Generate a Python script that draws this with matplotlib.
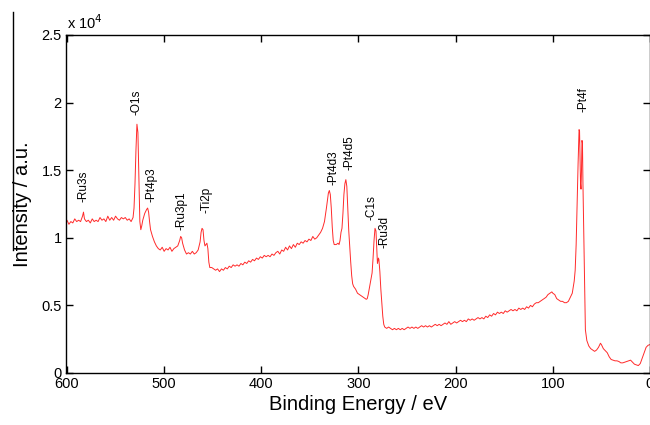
import matplotlib
matplotlib.use("Agg")
import matplotlib.pyplot as plt
from matplotlib.lines import Line2D

plt.rcParams['font.family'] = ['Liberation Sans', 'DejaVu Sans']

# ---- data (binding energy in eV, intensity in units of 1e4 counts) ----
binding_energy = [
    602, 600, 598, 596, 594, 592, 590, 588, 586, 584, 583, 582, 580, 578, 576, 574, 572, 570,
    568, 566, 564, 562, 560, 558, 556, 554, 552, 550, 548, 546, 544, 542, 540, 538, 536, 534,
    532, 531, 530, 529, 528, 527, 526, 525, 524, 523, 522, 520, 518, 517, 516, 515, 514, 512,
    510, 508, 506, 504, 502, 500, 498, 496, 494, 492, 490, 488, 486, 484, 483, 482, 481, 479,
    477, 475, 473, 471, 469, 467, 465, 463, 462, 461, 460, 459, 458, 457, 456, 455, 454, 453,
    451, 449, 447, 445, 443, 441, 439, 437, 435, 433, 431, 429, 427, 425, 423, 421, 419, 417,
    415, 413, 411, 409, 407, 405, 403, 401, 399, 397, 395, 393, 391, 389, 387, 385, 383, 381,
    379, 377, 375, 373, 371, 369, 367, 365, 363, 361, 359, 357, 355, 353, 351, 349, 347, 345,
    343, 341, 339, 337, 335, 333, 331, 330, 329, 328, 327, 326, 325, 323, 321, 320, 319, 318,
    317, 316, 315, 314, 313, 312, 311, 310, 309, 308, 307, 306, 305, 303, 301, 299, 297, 295,
    293, 292, 291, 290, 289, 288, 287, 286, 285, 284, 283, 282, 281, 280.5, 279.5, 279, 278, 277,
    276, 275, 274, 273, 271, 269, 267, 265, 263, 261, 259, 257, 255, 253, 251, 249, 247, 245,
    243, 241, 239, 237, 235, 233, 231, 229, 227, 225, 223, 221, 219, 217, 215, 213, 211, 209,
    207, 205, 203, 201, 199, 197, 195, 193, 191, 189, 187, 185, 183, 181, 179, 177, 175, 173,
    171, 169, 167, 165, 163, 161, 159, 157, 155, 153, 151, 149, 147, 145, 143, 141, 139, 137,
    135, 133, 131, 129, 127, 125, 123, 121, 119, 117, 115, 113, 111, 109, 107, 105, 103, 101,
    100, 98, 96, 94, 92, 90, 88, 86, 84, 82, 80, 78, 77, 76, 75, 74, 73, 72.5, 71.5, 71,
    70.5, 70, 69.5, 69, 68, 67, 66.5, 65, 63, 61, 59, 57, 55, 53, 51, 50, 48, 46, 44, 42,
    40, 38, 36, 34, 32, 30, 28, 26, 24, 22, 20, 18, 16, 14, 12, 10, 8, 6, 4, 2, 0,
]
intensity = [
    1.11, 1.13, 1.10, 1.12, 1.11, 1.14, 1.12, 1.13, 1.12, 1.16, 1.19, 1.14, 1.12, 1.13, 1.11, 1.14, 1.12, 1.13,
    1.12, 1.15, 1.13, 1.14, 1.12, 1.16, 1.13, 1.15, 1.13, 1.16, 1.14, 1.13, 1.15, 1.14, 1.15, 1.13, 1.14, 1.12,
    1.15, 1.22, 1.40, 1.65, 1.84, 1.78, 1.45, 1.12, 1.06, 1.09, 1.13, 1.18, 1.21, 1.22, 1.19, 1.12, 1.06, 1.01,
    0.97, 0.94, 0.92, 0.91, 0.93, 0.90, 0.92, 0.91, 0.93, 0.90, 0.92, 0.93, 0.94, 0.98, 1.01, 1.00, 0.96, 0.91,
    0.88, 0.89, 0.88, 0.90, 0.88, 0.89, 0.91, 0.97, 1.04, 1.07, 1.06, 0.98, 0.94, 0.95, 0.96, 0.92, 0.82, 0.78,
    0.78, 0.77, 0.76, 0.77, 0.75, 0.77, 0.76, 0.78, 0.77, 0.79, 0.78, 0.80, 0.79, 0.80, 0.79, 0.81, 0.80, 0.82,
    0.81, 0.83, 0.82, 0.84, 0.83, 0.85, 0.84, 0.86, 0.85, 0.87, 0.86, 0.87, 0.86, 0.88, 0.87, 0.89, 0.90, 0.88,
    0.91, 0.90, 0.93, 0.91, 0.94, 0.92, 0.95, 0.93, 0.96, 0.95, 0.97, 0.96, 0.98, 0.97, 0.99, 0.98, 1.01, 0.99,
    1.00, 1.02, 1.04, 1.07, 1.12, 1.22, 1.33, 1.35, 1.32, 1.22, 1.08, 0.98, 0.95, 0.95, 0.96, 0.95, 0.98, 1.04,
    1.07, 1.18, 1.32, 1.40, 1.43, 1.38, 1.22, 1.05, 0.93, 0.82, 0.72, 0.66, 0.64, 0.62, 0.59, 0.58, 0.57, 0.56,
    0.55, 0.545, 0.55, 0.58, 0.62, 0.66, 0.70, 0.74, 0.85, 0.98, 1.07, 1.05, 0.90, 0.81, 0.85, 0.84, 0.75, 0.62,
    0.52, 0.42, 0.36, 0.34, 0.33, 0.34, 0.33, 0.32, 0.33, 0.32, 0.33, 0.32, 0.33, 0.32, 0.33, 0.34, 0.33, 0.34,
    0.33, 0.34, 0.33, 0.34, 0.35, 0.34, 0.35, 0.34, 0.35, 0.34, 0.35, 0.36, 0.35, 0.36, 0.35, 0.36, 0.37, 0.36,
    0.38, 0.36, 0.37, 0.38, 0.37, 0.38, 0.39, 0.38, 0.39, 0.38, 0.40, 0.39, 0.40, 0.39, 0.40, 0.41, 0.40, 0.41,
    0.40, 0.42, 0.41, 0.43, 0.42, 0.44, 0.43, 0.45, 0.44, 0.45, 0.44, 0.46, 0.45, 0.46, 0.47, 0.46, 0.47, 0.46,
    0.48, 0.47, 0.48, 0.47, 0.49, 0.48, 0.50, 0.49, 0.51, 0.52, 0.52, 0.53, 0.54, 0.55, 0.56, 0.58, 0.59, 0.60,
    0.59, 0.58, 0.55, 0.54, 0.53, 0.53, 0.52, 0.52, 0.53, 0.56, 0.59, 0.68, 0.76, 0.95, 1.25, 1.55, 1.80, 1.79, 1.40, 1.36,
    1.50, 1.72, 1.70, 1.40, 0.95, 0.50, 0.32, 0.24, 0.20, 0.18, 0.17, 0.16, 0.17, 0.19, 0.22, 0.21, 0.18, 0.165, 0.15, 0.12,
    0.10, 0.095, 0.09, 0.09, 0.085, 0.075, 0.075, 0.08, 0.085, 0.09, 0.095, 0.08, 0.065, 0.06, 0.055, 0.07, 0.11, 0.15, 0.19, 0.205, 0.21,
]

peak_names = ['-Ru3s', '-O1s', '-Pt4p3', '-Ru3p1', '-Ti2p', '-Pt4d3', '-Pt4d5', '-C1s', '-Ru3d', '-Pt4f']
peak_energy = [583, 528, 512.8, 482, 456.3, 326, 308.8, 286.5, 272.8, 68.7]
peak_label_y = [1.265, 1.91, 1.265, 1.058, 1.18, 1.39, 1.50, 1.13, 0.925, 1.93]

x_ticks = [600, 500, 400, 300, 200, 100, 0]
y_ticks = [0, 0.5, 1, 1.5, 2, 2.5]
y_tick_labels = ['0', '0.5', '1', '1.5', '2', '2.5']

# ---- figure ----
W, H = 650, 425
fig = plt.figure(figsize=(W / 100, H / 100), dpi=100)
ax = fig.add_axes([66 / W, 1 - 373 / H, (650 - 66) / W, (373 - 35) / H])

ax.plot(binding_energy, intensity, color='#ff2a2a', lw=0.7)

for name, e, y in zip(peak_names, peak_energy, peak_label_y):
    ax.text(e, y, name, rotation=90, ha='center', va='bottom', fontsize=8.5, color='black')

ax.set_xlim(601, 0)
ax.set_ylim(0, 2.5)
ax.set_xticks(x_ticks)
ax.set_xticklabels([str(t) for t in x_ticks])
ax.set_yticks(y_ticks)
ax.set_yticklabels(y_tick_labels)
ax.tick_params(direction='in', length=5, width=1, top=True, right=True, labelsize=10.5, pad=3)
for s in ax.spines.values():
    s.set_linewidth(1)
    s.set_color('black')

ax.set_xlabel('Binding Energy / eV', fontsize=14.5, labelpad=3)
ax.set_ylabel('Intensity / a.u.', fontsize=14.5, labelpad=7)

fig.text(67 / W, 1 - 29 / H, r'x 10$^4$', fontsize=10.5, ha='left', va='baseline')

fig.add_artist(Line2D([13 / W, 13 / W], [1 - 12 / H, 1 - 250 / H], color='black', lw=1,
                      transform=fig.transFigure))

fig.savefig('out.png', dpi=100)
